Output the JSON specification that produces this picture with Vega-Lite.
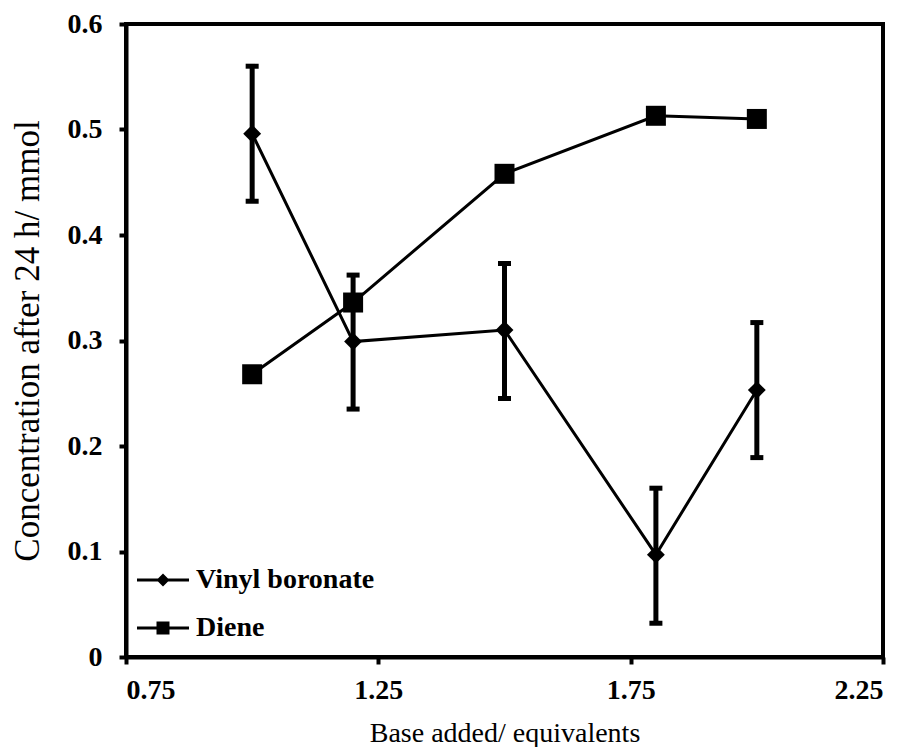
{
  "$schema": "https://vega.github.io/schema/vega-lite/v6.json",
  "width": 757,
  "height": 633,
  "autosize": {"type": "none"},
  "padding": {"left": 126, "top": 24, "right": 27, "bottom": 90},
  "background": "white",
  "config": {
    "view": {"stroke": "black", "strokeWidth": 4},
    "axis": {
      "domainColor": "black", "domainWidth": 4, "tickColor": "black", "tickWidth": 4, "tickSize": 7,
      "grid": false,
      "labelFont": "Liberation Serif", "labelFontSize": 28, "labelFontWeight": "bold", "labelColor": "black",
      "titleFont": "Liberation Serif", "titleFontSize": 28, "titleFontWeight": "normal", "titleColor": "black"
    }
  },
  "data": {
    "values": [
      {"series": "Vinyl boronate", "x": 1.0, "y": 0.496, "lo": 0.432, "hi": 0.560},
      {"series": "Vinyl boronate", "x": 1.2, "y": 0.299, "lo": 0.235, "hi": 0.362},
      {"series": "Vinyl boronate", "x": 1.5, "y": 0.310, "lo": 0.245, "hi": 0.373},
      {"series": "Vinyl boronate", "x": 1.8, "y": 0.097, "lo": 0.032, "hi": 0.160},
      {"series": "Vinyl boronate", "x": 2.0, "y": 0.253, "lo": 0.189, "hi": 0.317},
      {"series": "Diene", "x": 1.0, "y": 0.268},
      {"series": "Diene", "x": 1.2, "y": 0.336},
      {"series": "Diene", "x": 1.5, "y": 0.458},
      {"series": "Diene", "x": 1.8, "y": 0.513},
      {"series": "Diene", "x": 2.0, "y": 0.510}
    ]
  },
  "encoding": {
    "x": {
      "field": "x", "type": "quantitative",
      "scale": {"domain": [0.75, 2.25], "nice": false, "zero": false},
      "axis": {"values": [0.75, 1.25, 1.75, 2.25], "format": ".2f", "labelPadding": 12, "title": "Base added/ equivalents", "titlePadding": 15}
    },
    "y": {
      "field": "y", "type": "quantitative",
      "scale": {"domain": [0, 0.6], "nice": false},
      "axis": {"values": [0, 0.1, 0.2, 0.3, 0.4, 0.5, 0.6], "labelExpr": "datum.value === 0 ? '0' : format(datum.value, '.1f')", "labelPadding": 17, "title": "Concentration after 24 h/ mmol", "titleFontSize": 35, "titlePadding": 22}
    }
  },
  "resolve": {"scale": {"shape": "independent"}},
  "layer": [
    {
      "mark": {"type": "line", "color": "black", "strokeWidth": 3},
      "encoding": {"detail": {"field": "series"}}
    },
    {
      "transform": [{"filter": "isValid(datum.lo)"}],
      "mark": {"type": "rule", "color": "black", "strokeWidth": 5},
      "encoding": {"y": {"field": "lo", "type": "quantitative"}, "y2": {"field": "hi"}}
    },
    {
      "transform": [{"filter": "isValid(datum.lo)"}],
      "mark": {"type": "tick", "color": "black", "opacity": 1, "orient": "horizontal", "size": 13, "thickness": 5},
      "encoding": {"y": {"field": "lo", "type": "quantitative"}}
    },
    {
      "transform": [{"filter": "isValid(datum.hi)"}],
      "mark": {"type": "tick", "color": "black", "opacity": 1, "orient": "horizontal", "size": 13, "thickness": 5},
      "encoding": {"y": {"field": "hi", "type": "quantitative"}}
    },
    {
      "layer": [
        {
          "transform": [{"filter": "datum.series === 'Vinyl boronate'"}],
          "mark": {"type": "point", "filled": true, "opacity": 1, "color": "black", "size": 320},
          "encoding": {
            "shape": {
              "field": "series", "type": "nominal",
              "scale": {"domain": ["Vinyl boronate", "Diene"], "range": ["diamond", "square"]},
              "legend": null
            }
          }
        },
        {
          "transform": [{"filter": "datum.series === 'Diene'"}],
          "mark": {"type": "point", "filled": true, "opacity": 1, "color": "black", "size": 400},
          "encoding": {
            "shape": {"field": "series", "type": "nominal", "legend": null}
          }
        }
      ]
    },
    {
      "mark": {"type": "point", "filled": true, "opacity": 0, "color": "black", "size": 169},
      "encoding": {
        "shape": {
          "field": "series", "type": "nominal",
          "scale": {"domain": ["Vinyl boronate", "Diene"], "range": ["M-4,-0.23H4V0.23H-4Z M0,-1L1,0L0,1L-1,0Z", "M-4,-0.23H4V0.23H-4Z M-1,-1H1V1H-1Z"]},
          "legend": {
            "orient": "none", "legendX": 23, "legendY": 542, "title": null, "padding": 0,
            "labelFont": "Liberation Serif", "labelFontSize": 28, "labelFontWeight": "bold", "labelColor": "black",
            "labelLimit": 0, "labelOffset": 19, "rowPadding": 20, "symbolSize": 169,
            "symbolFillColor": "black", "symbolOpacity": 1, "symbolStrokeWidth": 0,
            "encode": {
              "symbols": {
                "update": {
                  "opacity": {"value": 1},
                  "fill": {"value": "black"},
                  "fillOpacity": {"value": 1},
                  "size": {"value": 169}
                }
              }
            }
          }
        }
      }
    }
  ]
}
